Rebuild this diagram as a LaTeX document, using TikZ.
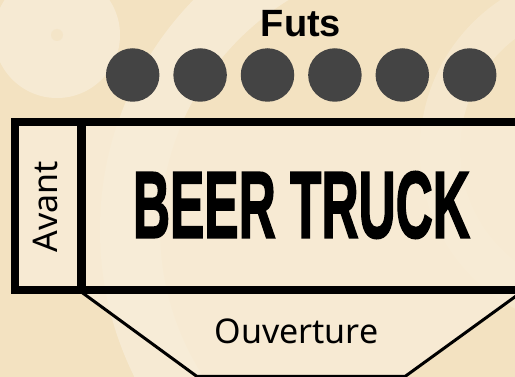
\documentclass[tikz,border=0pt]{standalone}
\usepackage{fontspec}
\setmainfont{Liberation Sans}
\newfontfamily\thinfont{Noto Sans}
\newfontfamily\beerfont[FakeBold=2.2]{Liberation Sans}
\usepackage{graphicx}
\definecolor{bgbeige}{RGB}{243,226,193}
\definecolor{lightbeige}{RGB}{248,237,216}
\definecolor{kegcol}{RGB}{68,68,68}
\begin{document}
\begin{tikzpicture}[x=1pt,y=-1pt,
  keg/.style={circle,fill=kegcol,minimum size=53.5pt,inner sep=0pt},
  border/.style={line width=8.5pt,draw=black},
  thinline/.style={line width=3pt,draw=black,line join=miter},
  lbl/.style={inner sep=0pt,font=\thinfont\fontsize{34}{40}\selectfont}]
\useasboundingbox (0,0) rectangle (515,377);
\clip (0,0) rectangle (515,377);
% background
\fill[bgbeige] (0,0) rectangle (515,377);
\draw[white,opacity=.3,line width=60pt] (430,230) circle[radius=300];
\draw[white,opacity=.2,line width=40pt] (600,150) circle[radius=160];
\fill[white,opacity=.3] (57,35) circle[radius=63];
\fill[bgbeige,opacity=.6] (57,35) circle[radius=6];
% title
\node[inner sep=0pt,anchor=base,font=\bfseries\fontsize{38}{44}\selectfont] (futs) at (301,37) {Futs};
% kegs
\foreach \i in {0,...,5}{
  \node[keg] (keg\i) at ({132.7+67.4*\i},75) {};
}
% opening trapezoid
\coordinate (tl) at (80,291);
\coordinate (tr) at (523,291);
\coordinate (br) at (405,376.5);
\coordinate (bl) at (197,376.5);
\filldraw[thinline,fill=lightbeige,fill opacity=.8] (tl) -- (bl) -- (br) -- (tr);
\node[lbl] (ouv) at (296.5,331.5) {Ouverture};
% truck body
\fill[lightbeige,opacity=.8] (15,122) rectangle (540,290);
\draw[border] (540,122) -- (15,122) -- (15,290) -- (540,290);
\draw[border,line width=9pt] (81,122) -- (81,290);
\node[lbl,rotate=90] (avant) at (45,206.5) {Avant};
\node[inner sep=0pt] (beer) at (301.5,205) {\resizebox{337pt}{66pt}{\beerfont\bfseries BEER TRUCK}};
\end{tikzpicture}
\end{document}
